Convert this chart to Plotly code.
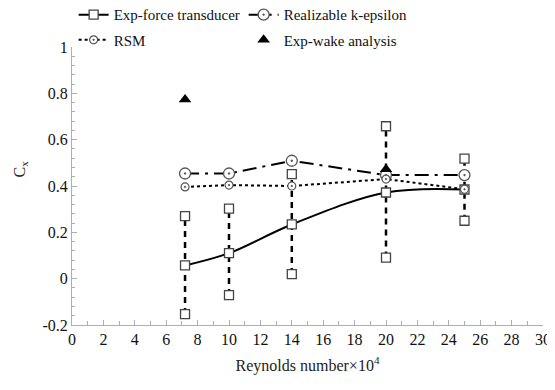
import plotly.graph_objects as go

re_x = [7.2, 10, 14, 20, 25]
exp_mid = [0.057, 0.11, 0.234, 0.372, 0.385]
exp_hi = [0.27, 0.302, 0.451, 0.658, 0.518]
exp_lo = [-0.153, -0.071, 0.02, 0.091, 0.25]
rke = [0.454, 0.454, 0.509, 0.447, 0.447]
rsm = [0.396, 0.404, 0.40, 0.43, 0.386]
wake_x = [7.2, 20]
wake_y = [0.773, 0.472]
y_tickvals = [-0.2, 0, 0.2, 0.4, 0.6, 0.8, 1]
y_ticktext = ["-0.2", "0", "0.2", "0.4", "0.6", "0.8", "1"]

FONT = "Times New Roman"
fig = go.Figure()

bx, by = [], []
for x, lo, hi in zip(re_x, exp_lo, exp_hi):
    bx += [x, x, None]
    by += [lo, hi, None]
sq = dict(symbol="square", size=9, color="white", line=dict(width=1.3, color="#444"))
fig.add_trace(go.Scatter(x=bx, y=by, mode="lines+markers", showlegend=False,
                         line=dict(color="black", width=2.5, dash="6px,5px"),
                         marker=sq))

fig.add_trace(go.Scatter(x=re_x, y=exp_mid, mode="lines+markers", name="Exp-force transducer",
                         line=dict(color="black", width=2, shape="spline"),
                         marker=sq, legend="legend"))
fig.add_trace(go.Scatter(x=re_x, y=rke, mode="lines+markers", name="Realizable k-epsilon",
                         line=dict(color="black", width=2, dash="14px,6px,3px,6px"),
                         marker=dict(symbol="circle-dot", size=11, color="white",
                                     line=dict(width=1.3, color="#555")), legend="legend"))
fig.add_trace(go.Scatter(x=re_x, y=rsm, mode="lines+markers", name="RSM",
                         line=dict(color="black", width=2, dash="dot"),
                         marker=dict(symbol="circle-dot", size=8, color="white",
                                     line=dict(width=1.2, color="#555")), legend="legend2"))
fig.add_trace(go.Scatter(x=wake_x, y=wake_y, mode="markers", name="Exp-wake analysis",
                         marker=dict(symbol="triangle-up", size=11, color="black"),
                         legend="legend2"))

axcol = "#a8aebb"
fig.update_layout(
    width=547, height=382,
    margin=dict(l=64, r=12, t=39, b=65, autoexpand=False),
    paper_bgcolor="white", plot_bgcolor="white",
    font=dict(family=FONT, size=15, color="#222"),
    xaxis=dict(range=[0, 30], dtick=2, showgrid=False, zeroline=False, automargin=False,
               showline=True, linecolor=axcol, linewidth=1,
               ticks="inside", ticklen=5, tickcolor=axcol,
               minor=dict(dtick=1, ticks="inside", ticklen=4, tickcolor=axcol),
               tickfont=dict(size=16, family=FONT, color="#111"),
               title=dict(text="Reynolds number×10<sup>4</sup>", font=dict(size=16, family=FONT), standoff=12)),
    yaxis=dict(range=[-0.2, 1], tickmode="array", tickvals=y_tickvals, ticktext=y_ticktext,
               showgrid=False, zeroline=False, automargin=False,
               showline=True, linecolor=axcol, linewidth=1,
               ticks="inside", ticklen=5, tickcolor=axcol,
               minor=dict(dtick=0.04, tick0=-0.2, ticks="inside", ticklen=3, tickcolor=axcol),
               tickfont=dict(size=16, family=FONT, color="#111")),
    annotations=[dict(text="C<sub>x</sub>", xref="paper", yref="paper",
                      x=-0.11, y=0.56, xanchor="center", yanchor="middle",
                      textangle=-90, showarrow=False, font=dict(size=16, family=FONT))],
    legend=dict(orientation="h", x=0.12, y=0.982, xref="container", yref="container",
                xanchor="left", yanchor="middle",
                entrywidth=125, entrywidthmode="pixels",
                font=dict(size=15, family=FONT, color="#111"), bgcolor="rgba(0,0,0,0)",
                itemwidth=30),
    legend2=dict(orientation="h", x=0.12, y=0.916, xref="container", yref="container",
                 xanchor="left", yanchor="middle",
                 entrywidth=125, entrywidthmode="pixels",
                 font=dict(size=15, family=FONT, color="#111"), bgcolor="rgba(0,0,0,0)",
                 itemwidth=30),
    showlegend=True,
)

fig.write_html("out.html")
